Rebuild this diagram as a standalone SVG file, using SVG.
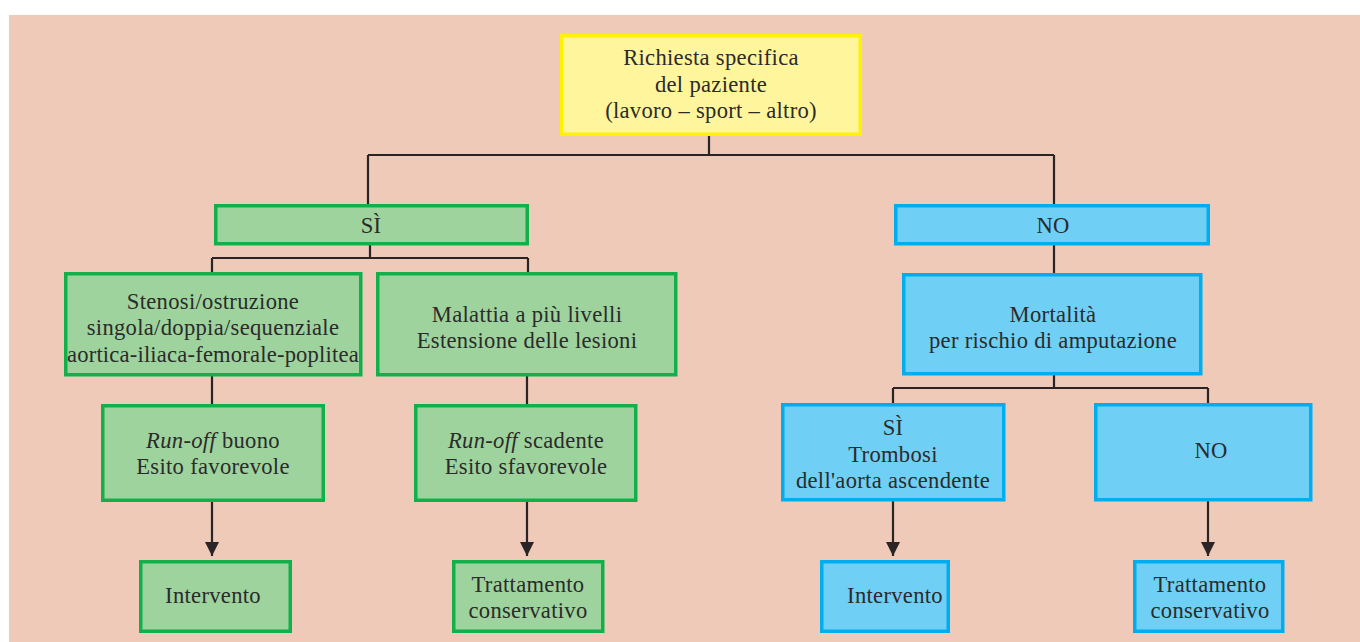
<svg xmlns="http://www.w3.org/2000/svg" width="1360" height="642" viewBox="0 0 1360 642">
<style>
.t{font-family:"Liberation Serif","Times New Roman",serif;font-size:22.6px;fill:#2b2b2b;text-anchor:middle;letter-spacing:0.3px}
.g{fill:#9ED39D;stroke:#12B04A;stroke-width:3.5}
.b{fill:#6FCFF4;stroke:#00AEEF;stroke-width:3.5}
.y{fill:#FFF59D;stroke:#FFF200;stroke-width:3.5}
.c{fill:none;stroke:#2a2426;stroke-width:2.2}
</style>
<defs>
<marker id="ah" viewBox="0 0 14 14" refX="14" refY="7" markerWidth="14" markerHeight="14" markerUnits="userSpaceOnUse" orient="auto">
<path d="M0,0 L14,7 L0,14 Z" fill="#2a2426"/>
</marker>
</defs>
<rect x="0" y="0" width="1360" height="642" fill="#ffffff"/>
<rect x="9" y="15" width="1351" height="627" fill="#EFCAB8"/>
<g id="connectors">
<path class="c" d="M709,136 V155 M368,155 H1054 M368,155 V205 M1054,155 V205"/>
<path class="c" d="M370,245 V258 M212,258 H528 M212,258 V273 M528,258 V273"/>
<path class="c" d="M212,376 V404 M527,376 V404"/>
<path class="c" d="M1054,245 V274"/>
<path class="c" d="M1054,375 V388 M893,388 H1208 M893,388 V404 M1208,388 V404"/>
<path class="c" d="M212,501 V556" marker-end="url(#ah)"/>
<path class="c" d="M527,501 V556" marker-end="url(#ah)"/>
<path class="c" d="M893,501 V556" marker-end="url(#ah)"/>
<path class="c" d="M1208,501 V556" marker-end="url(#ah)"/>
</g>
<g id="n-richiesta">
<rect class="y" x="561.75" y="35.75" width="298.5" height="98.5"/>
<text class="t" x="711" y="65">Richiesta specifica</text>
<text class="t" x="711" y="92">del paziente</text>
<text class="t" x="711" y="118">(lavoro – sport – altro)</text>
</g>
<g id="n-si">
<rect class="g" x="215.75" y="205.75" width="311.5" height="38"/>
<text class="t" x="371" y="233">SÌ</text>
</g>
<g id="n-no">
<rect class="b" x="895.75" y="205.75" width="312.5" height="38"/>
<text class="t" x="1053" y="233">NO</text>
</g>
<g id="n-stenosi">
<rect class="g" x="65.75" y="273.75" width="295" height="101"/>
<text class="t" x="213" y="309">Stenosi/ostruzione</text>
<text class="t" x="213" y="335">singola/doppia/sequenziale</text>
<text class="t" x="213" y="362" textLength="292" lengthAdjust="spacing">aortica-iliaca-femorale-poplitea</text>
</g>
<g id="n-malattia">
<rect class="g" x="377.75" y="273.75" width="298" height="101"/>
<text class="t" x="527" y="322">Malattia a più livelli</text>
<text class="t" x="527" y="348">Estensione delle lesioni</text>
</g>
<g id="n-mortalita">
<rect class="b" x="903.75" y="274.75" width="297" height="99"/>
<text class="t" x="1053" y="322">Mortalità</text>
<text class="t" x="1053" y="348">per rischio di amputazione</text>
</g>
<g id="n-runoff-buono">
<rect class="g" x="102.75" y="405.75" width="220.5" height="94.5"/>
<text class="t" x="213" y="448"><tspan font-style="italic">Run-off</tspan> buono</text>
<text class="t" x="213" y="474">Esito favorevole</text>
</g>
<g id="n-runoff-scadente">
<rect class="g" x="415.75" y="405.75" width="220" height="94.5"/>
<text class="t" x="526" y="448"><tspan font-style="italic">Run-off</tspan> scadente</text>
<text class="t" x="526" y="474">Esito sfavorevole</text>
</g>
<g id="n-trombosi">
<rect class="b" x="782.75" y="404.75" width="221" height="95"/>
<text class="t" x="893" y="435">SÌ</text>
<text class="t" x="893" y="462">Trombosi</text>
<text class="t" x="893" y="488">dell'aorta ascendente</text>
</g>
<g id="n-no2">
<rect class="b" x="1095.75" y="404.75" width="215" height="95"/>
<text class="t" x="1211" y="458">NO</text>
</g>
<g id="n-intervento1">
<rect class="g" x="140.75" y="561.75" width="149.5" height="69.5"/>
<text class="t" x="213" y="603">Intervento</text>
</g>
<g id="n-trattamento1">
<rect class="g" x="453.75" y="561.75" width="149" height="69.5"/>
<text class="t" x="528" y="592">Trattamento</text>
<text class="t" x="528" y="618">conservativo</text>
</g>
<g id="n-intervento2">
<rect class="b" x="821.75" y="561.75" width="126.5" height="69.5"/>
<text class="t" x="895" y="603">Intervento</text>
</g>
<g id="n-trattamento2">
<rect class="b" x="1134.75" y="561.75" width="148" height="69.5"/>
<text class="t" x="1210" y="592">Trattamento</text>
<text class="t" x="1210" y="618">conservativo</text>
</g>
</svg>
